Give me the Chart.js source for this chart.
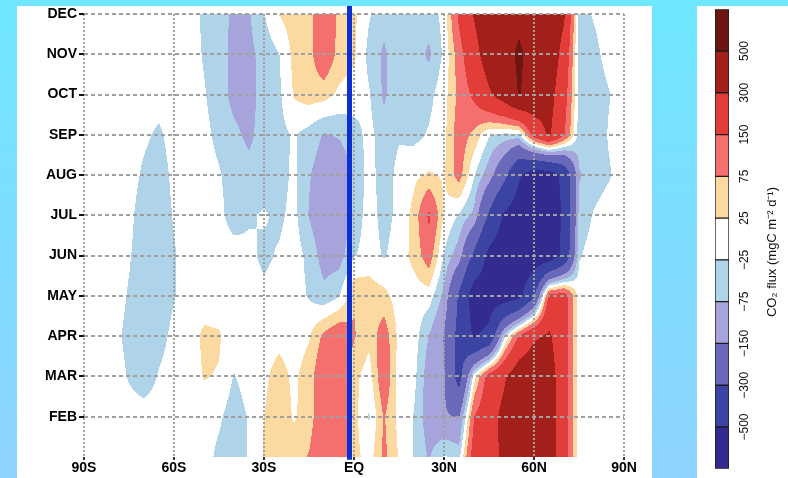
<!DOCTYPE html>
<html>
<head>
<meta charset="utf-8">
<script src="https://cdn.jsdelivr.net/npm/chart.js@4.4.1/dist/chart.umd.min.js"></script>
<style>
  html, body { margin: 0; padding: 0; }
  body {
    width: 788px; height: 478px; position: relative; overflow: hidden;
    background: linear-gradient(#6fe7ff, #8ed3ff);
  }
  .panel { position: absolute; background: #fff; }
  #plotPanel { left: 17px; top: 6px; width: 635px; height: 472px; }
  #barPanel { left: 697px; top: 6px; width: 91px; height: 472px; }
  #fluxChart { position: absolute; left: 0; top: 0; }
  #scaleChart { position: absolute; left: 697px; top: 0; }
</style>
</head>
<body>
<div class="panel" id="plotPanel"></div>
<div class="panel" id="barPanel"></div>
<canvas id="fluxChart" width="652" height="478"></canvas>
<canvas id="scaleChart" width="91" height="478"></canvas>
<script>
// latitude of each grid column (degrees, S negative)
const lats = [-90, -85, -80, -75, -70, -65, -60, -55, -50, -45, -40, -35, -30, -25, -20, -15, -10, -5,
  0, 5, 10, 15, 20, 25, 30, 35, 40, 45, 50, 55, 60, 65, 70, 75, 80, 85, 90];
const monthNums = [1, 2, 3, 4, 5, 6, 7, 8, 9, 10, 11, 12];
const months = ['JAN', 'FEB', 'MAR', 'APR', 'MAY', 'JUN', 'JUL', 'AUG', 'SEP', 'OCT', 'NOV', 'DEC'];

// CO2 flux (mgC m-2 d-1), one row per month, one value per latitude column
const fluxJan = [0, 0, 0, 0, 0, 0, 0, 0, 0, -40, -70, -20, 30, 60, 50, 80, 140, 130, 45, 0, 90, 20, -30, -80, -20, -40, 200, 260, 320, 420, 440, 400, 200, 0, 0, 0, 0];
const fluxFeb = [0, 0, 0, 0, 0, 0, 0, 0, 0, -15, -55, -20, 25, 55, 20, 45, 140, 140, 45, -30, 80, 10, -28, -110, -140, -155, 150, 240, 340, 450, 430, 380, 200, 0, 0, 0, 0];
const fluxMar = [0, 0, 0, -30, -55, -20, 0, 0, 28, 22, -28, 0, 15, 45, 15, 50, 130, 130, 40, 0, 130, 0, -10, -110, -140, -360, 0, 200, 280, 400, 420, 380, 200, 0, 0, 0, 0];
const fluxApr = [0, 0, -10, -40, -60, -45, -10, 0, 35, 30, 0, 0, 0, 10, 0, 20, 90, 130, 80, 40, 110, 10, 0, -78, -155, -350, -520, -450, -50, 160, 280, 320, 200, 0, 0, 0, 0];
const fluxMay = [0, 0, 0, -30, -55, -60, -28, 0, 0, 0, 0, 0, -15, 0, 0, -30, -60, -30, 70, 50, 40, 0, 0, 0, -90, -320, -600, -600, -600, -550, -320, 180, 200, 0, 0, 0, 0];
const fluxJun = [0, 0, 0, -20, -55, -60, -30, 0, 0, 0, 0, -15, -35, -20, 0, -40, -100, -100, -30, 0, -30, 0, 40, 110, -30, -110, -330, -550, -620, -620, -620, -620, -450, -30, 0, 0, 0];
const fluxJul = [0, 0, 0, -10, -55, -60, -20, 0, 0, -10, -50, -30, -20, -35, -10, -78, -120, -120, -60, 0, -45, -10, 40, 165, 20, -30, -90, -320, -520, -600, -600, -600, -480, -60, -20, 0, 0];
const fluxAug = [0, 0, 0, 0, -35, -55, -10, 0, 0, -20, -50, -60, -50, -45, -15, -70, -110, -120, -70, -5, -50, -10, 15, 30, 20, 100, -20, -110, -250, -480, -600, -600, -450, -80, -50, -30, 0];
const fluxSep = [0, 0, 0, 0, -15, -35, 0, 0, -10, -40, -65, -85, -55, -40, -20, -45, -80, -70, -45, -10, -50, -30, -40, -20, 10, 110, 60, -20, -40, -40, 200, 320, 160, -50, -60, -20, 0];
const fluxOct = [0, 0, 0, 0, 0, 0, 0, 0, -20, -55, -90, -90, -60, -35, 30, 50, 45, 15, 0, -20, -85, -30, -50, -40, 5, 90, 170, 280, 380, 510, 420, 360, 200, -40, -55, -28, 0];
const fluxNov = [0, 0, 0, 0, 0, 0, 0, 0, -30, -55, -90, -90, -55, -27, 40, 55, 130, 55, 35, -40, -85, -30, -50, -85, -15, 110, 250, 380, 430, 530, 430, 400, 250, -50, -40, -5, 0];
const fluxDec = [0, 0, 0, 0, 0, 0, 0, 0, -35, -55, -85, -80, -27, 27, 50, 50, 140, 60, 35, -20, -55, -30, -35, -50, -10, 170, 310, 400, 420, 450, 420, 400, 320, -45, -20, 0, 0];

// contour levels and fill colours (lowest class first)
const levels = [-500, -300, -150, -75, -25, 25, 75, 150, 300, 500];
const levelColors = ['#332c8e', '#3b44a3', '#6a68b8', '#a7a4db', '#afd4ea', '#ffffff',
  '#fdd9a2', '#f4706f', '#e23d38', '#a3201a', '#6b1610'];
const levelLabels = ['\u2212500', '\u2212300', '\u2212150', '\u221275', '\u221225', '25', '75', '150', '300', '500'];

const latTicks = [-90, -60, -30, 0, 30, 60, 90];
const latLabels = ['90S', '60S', '30S', 'EQ', '30N', '60N', '90N'];
const monthTicks = [2, 3, 4, 5, 6, 7, 8, 9, 10, 11, 12];

// blue equator marker
const equatorLine = [{x: -1.5, y: 0.93}, {x: -1.5, y: 12.2}];

const scaleTitle = 'CO\u2082 flux (mgC m\u207B\u00B2 d\u207B\u00B9)';

const fluxRows = [fluxJan, fluxFeb, fluxMar, fluxApr, fluxMay, fluxJun,
  fluxJul, fluxAug, fluxSep, fluxOct, fluxNov, fluxDec];

const labelFont = {family: '"Liberation Sans", Arial, Helvetica, sans-serif', size: 14, weight: 'bold'};

// bilinear value of the grid at (lat, month)
function fluxAt(lat, month) {
    let i = 0;
    while (i < lats.length - 2 && lat > lats[i + 1]) i++;
    const tx = Math.min(1, Math.max(0, (lat - lats[i]) / (lats[i + 1] - lats[i])));
    let r = 0;
    while (r < monthNums.length - 2 && month > monthNums[r + 1]) r++;
    const ty = Math.min(1, Math.max(0, (month - monthNums[r]) / (monthNums[r + 1] - monthNums[r])));
    const lo = fluxRows[r][i] * (1 - tx) + fluxRows[r][i + 1] * tx;
    const hi = fluxRows[r + 1][i] * (1 - tx) + fluxRows[r + 1][i + 1] * tx;
    return lo * (1 - ty) + hi * ty;
}

function hexToRgb(hex) {
    const n = parseInt(hex.slice(1), 16);
    return [(n >> 16) & 255, (n >> 8) & 255, n & 255];
}

// filled contours, painted under the grid
const contourFill = {
    id: 'contourFill',
    beforeDraw(chart) {
        const {ctx, chartArea: a, scales: {x, y}} = chart;
        const w = Math.round(a.right - a.left);
        const h = Math.round(a.bottom - a.top);
        const off = document.createElement('canvas');
        off.width = w;
        off.height = h;
        const octx = off.getContext('2d');
        const img = octx.createImageData(w, h);
        const rgb = levelColors.map(hexToRgb);
        const latAt = [];
        for (let i = 0; i < w; i++) latAt.push(x.getValueForPixel(a.left + i + 0.5));
        for (let j = 0; j < h; j++) {
            const m = y.getValueForPixel(a.top + j + 0.5);
            for (let i = 0; i < w; i++) {
                const v = fluxAt(latAt[i], m);
                let k = 0;
                while (k < levels.length && v >= levels[k]) k++;
                const p = (j * w + i) * 4;
                img.data[p] = rgb[k][0];
                img.data[p + 1] = rgb[k][1];
                img.data[p + 2] = rgb[k][2];
                img.data[p + 3] = 255;
            }
        }
        octx.putImageData(img, 0, 0);
        ctx.drawImage(off, a.left, a.top);
    }
};

const fluxChart = new Chart(document.getElementById('fluxChart'), {
    type: 'scatter',
    data: {
        datasets: [{
            data: equatorLine,
            showLine: true,
            borderColor: '#0b2fd0',
            borderWidth: 5,
            pointRadius: 0,
            clip: false
        }]
    },
    options: {
        responsive: false,
        animation: false,
        layout: {padding: {top: 14, right: 28, left: 0, bottom: 0}},
        plugins: {legend: {display: false}, tooltip: {enabled: false}},
        scales: {
            x: {
                type: 'linear',
                min: -90,
                max: 90,
                afterBuildTicks: s => { s.ticks = latTicks.map(v => ({value: v})); },
                afterFit: s => { s.height = 21; },
                ticks: {
                    callback: v => latLabels[latTicks.indexOf(v)],
                    color: '#000',
                    font: labelFont,
                    padding: 0,
                    maxRotation: 0,
                    autoSkip: false
                },
                grid: {color: '#a0a0a0', lineWidth: 2, tickLength: 3, tickColor: '#333', tickWidth: 2},
                border: {display: false, dash: [2, 2]}
            },
            y: {
                type: 'linear',
                min: 1,
                max: 12,
                afterBuildTicks: s => { s.ticks = monthTicks.map(v => ({value: v})); },
                afterFit: s => { s.width = 84; },
                ticks: {
                    callback: v => months[monthNums.indexOf(v)],
                    color: '#000',
                    font: labelFont,
                    padding: 2,
                    autoSkip: false
                },
                grid: {color: '#a0a0a0', lineWidth: 2, tickLength: 5, tickColor: '#111', tickWidth: 2},
                border: {display: false, dash: [4, 3]}
            }
        }
    },
    plugins: [contourFill]
});

// rotated colour-bar title
const scaleTitlePlugin = {
    id: 'scaleTitle',
    afterDraw(chart) {
        const ctx = chart.ctx;
        ctx.save();
        ctx.translate(75, 252);
        ctx.rotate(-Math.PI / 2);
        ctx.font = '13px "Liberation Sans", Arial, sans-serif';
        ctx.fillStyle = '#111';
        ctx.textAlign = 'center';
        ctx.textBaseline = 'middle';
        ctx.fillText(scaleTitle, 0, 0);
        ctx.restore();
    }
};

const scaleChart = new Chart(document.getElementById('scaleChart'), {
    type: 'bar',
    data: {
        labels: [''],
        datasets: levelColors.map(c => ({
            data: [1],
            backgroundColor: c,
            borderColor: '#1b1b1b',
            borderWidth: 1,
            borderSkipped: false,
            barPercentage: 1,
            categoryPercentage: 1
        }))
    },
    options: {
        responsive: false,
        animation: false,
        layout: {padding: {left: 18, top: 6, bottom: 1, right: 0}},
        plugins: {legend: {display: false}, tooltip: {enabled: false}},
        scales: {
            x: {display: false, stacked: true},
            y: {
                stacked: true,
                position: 'right',
                min: 0,
                max: 11,
                afterBuildTicks: s => { s.ticks = levels.map((v, k) => ({value: k + 1})); },
                afterFit: s => { s.width = 59; },
                ticks: {
                    callback: v => levelLabels[v - 1],
                    minRotation: 90,
                    maxRotation: 90,
                    crossAlign: 'center',
                    padding: 2,
                    color: '#111',
                    font: {family: '"Liberation Sans", Arial, sans-serif', size: 12}
                },
                grid: {display: false, drawTicks: false},
                border: {display: false}
            }
        }
    },
    plugins: [scaleTitlePlugin]
});
</script>
</body>
</html>
